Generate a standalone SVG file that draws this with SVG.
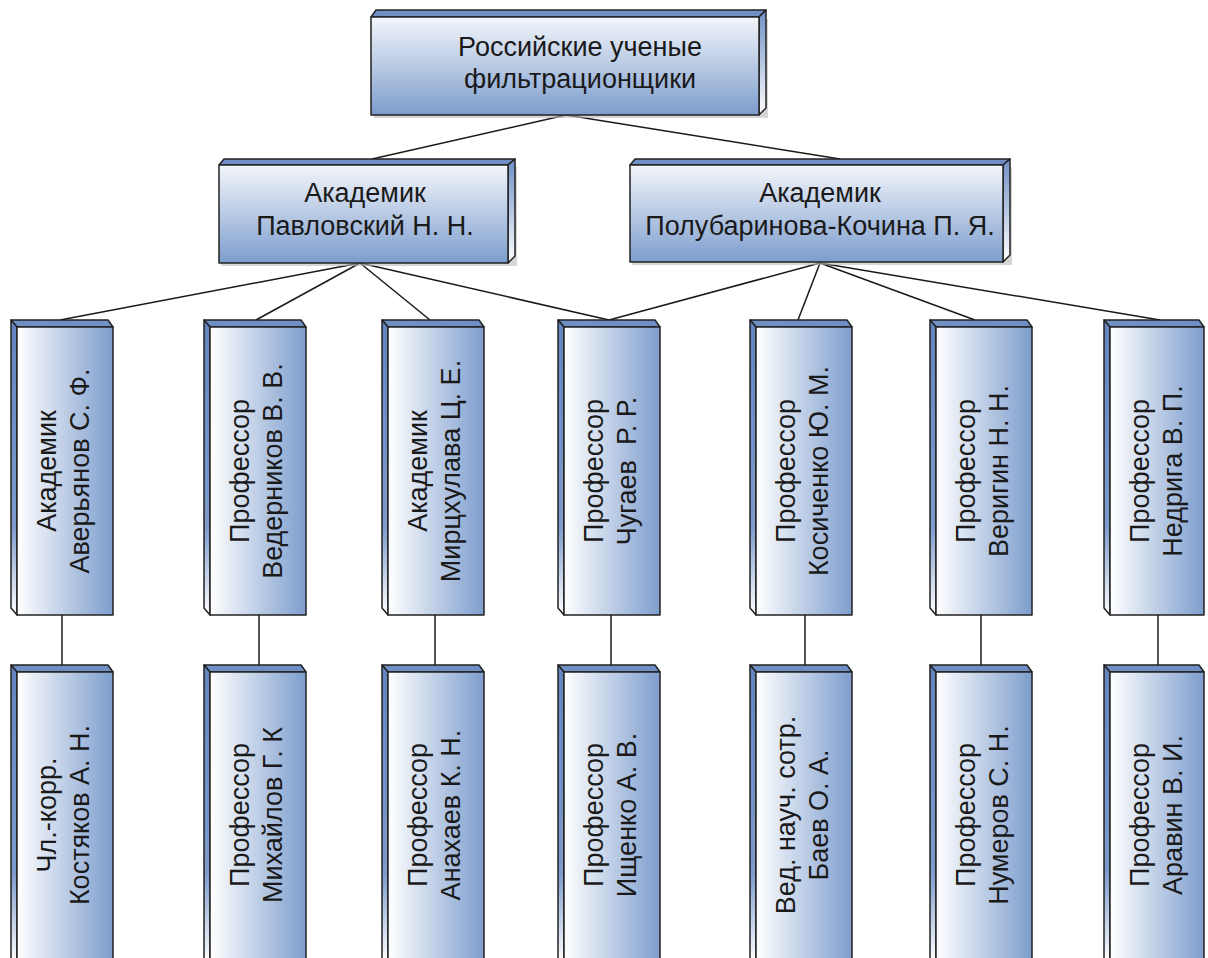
<svg xmlns="http://www.w3.org/2000/svg" width="1208" height="958" viewBox="0 0 1208 958">
<defs>
<linearGradient id="gH" x1="0" y1="0" x2="0" y2="1"><stop offset="0" stop-color="#f3f6fb"/><stop offset="1" stop-color="#7d9dcd"/></linearGradient>
<linearGradient id="gV" x1="0" y1="0" x2="1" y2="0"><stop offset="0" stop-color="#ffffff"/><stop offset="1" stop-color="#7d9dcd"/></linearGradient>
<linearGradient id="gS" x1="0" y1="0" x2="0" y2="1"><stop offset="0" stop-color="#6f8fc5"/><stop offset="1" stop-color="#ffffff"/></linearGradient>
<linearGradient id="gL" x1="0" y1="0" x2="0" y2="1"><stop offset="0" stop-color="#6384bf"/><stop offset="0.7" stop-color="#7d9bcc"/><stop offset="1" stop-color="#ffffff"/></linearGradient>
</defs>
<style>
.face{stroke:#222;stroke-width:1.5;stroke-linejoin:round}
.top{fill:#6f8fc5}
.fh{fill:url(#gH)}
.fv{fill:url(#gV)}
.sr{fill:url(#gS)}
.sl{fill:url(#gL)}
.sh{fill:#bbb;opacity:0.6}
text{font-family:"Liberation Sans",Arial,sans-serif;font-size:27px;fill:#1a1a1a;text-anchor:middle}
.con line{stroke:#1a1a1a;stroke-width:1.5}
</style>
<g class="con">
<line x1="566" y1="115" x2="372" y2="159"/>
<line x1="566" y1="115" x2="840" y2="159"/>
<line x1="360" y1="263" x2="60" y2="320"/>
<line x1="360" y1="263" x2="256" y2="320"/>
<line x1="360" y1="263" x2="430" y2="320"/>
<line x1="360" y1="263" x2="609" y2="320"/>
<line x1="820" y1="263" x2="609" y2="320"/>
<line x1="820" y1="263" x2="798" y2="320"/>
<line x1="820" y1="263" x2="975" y2="320"/>
<line x1="820" y1="263" x2="1160" y2="320"/>
<line x1="62" y1="615" x2="62" y2="665"/>
<line x1="259" y1="615" x2="259" y2="665"/>
<line x1="435" y1="615" x2="435" y2="665"/>
<line x1="611" y1="615" x2="611" y2="665"/>
<line x1="805" y1="615" x2="805" y2="665"/>
<line x1="981" y1="615" x2="981" y2="665"/>
<line x1="1158" y1="615" x2="1158" y2="665"/>
</g>
<g id="root">
<rect class="sh" x="374" y="19" width="394" height="99"/>
<polygon class="face top" points="371,17 376,10 766,10 759,17"/>
<polygon class="face sr" points="759,17 766,10 766,108 759,115"/>
<rect class="face fh" x="371" y="17" width="388" height="98"/>
<text x="580" y="56">Российские ученые</text>
<text x="580" y="88">фильтрационщики</text>
</g>
<g id="pavlovsky">
<rect class="sh" x="221" y="167" width="296" height="99"/>
<polygon class="face top" points="219,165 224,159 515,159 508,165"/>
<polygon class="face sr" points="508,165 515,159 515,256 508,263"/>
<rect class="face fh" x="219" y="165" width="289" height="98"/>
<text x="365" y="202">Академик</text>
<text x="365" y="235">Павловский Н. Н.</text>
</g>
<g id="polubarinova">
<rect class="sh" x="632" y="167" width="380" height="98"/>
<polygon class="face top" points="630,165 635,159 1010,159 1003,165"/>
<polygon class="face sr" points="1003,165 1010,159 1010,255 1003,262"/>
<rect class="face fh" x="630" y="165" width="373" height="97"/>
<text x="820" y="202">Академик</text>
<text x="820" y="235">Полубаринова-Кочина П. Я.</text>
</g>
<g id="averyanov">
<polygon class="face top" points="11,320 17,327 113,327 108,320"/>
<polygon class="face sl" points="11,320 17,327 17,615 11,608"/>
<rect class="face fv" x="17" y="327" width="96" height="288"/>
<text transform="translate(63,471) rotate(-90)"><tspan x="0" y="-7">Академик</tspan><tspan x="0" y="26">Аверьянов С. Ф.</tspan></text>
</g>
<g id="vedernikov">
<polygon class="face top" points="204,320 210,327 306,327 301,320"/>
<polygon class="face sl" points="204,320 210,327 210,615 204,608"/>
<rect class="face fv" x="210" y="327" width="96" height="288"/>
<text transform="translate(256,471) rotate(-90)"><tspan x="0" y="-7">Профессор</tspan><tspan x="0" y="26">Ведерников В. В.</tspan></text>
</g>
<g id="mirtskhulava">
<polygon class="face top" points="382,320 388,327 484,327 479,320"/>
<polygon class="face sl" points="382,320 388,327 388,615 382,608"/>
<rect class="face fv" x="388" y="327" width="96" height="288"/>
<text transform="translate(434,471) rotate(-90)"><tspan x="0" y="-7">Академик</tspan><tspan x="0" y="26">Мирцхулава Ц. Е.</tspan></text>
</g>
<g id="chugaev">
<polygon class="face top" points="558,320 564,327 660,327 655,320"/>
<polygon class="face sl" points="558,320 564,327 564,615 558,608"/>
<rect class="face fv" x="564" y="327" width="96" height="288"/>
<text transform="translate(610,471) rotate(-90)"><tspan x="0" y="-7">Профессор</tspan><tspan x="0" y="26">Чугаев&#160; Р. Р.</tspan></text>
</g>
<g id="kosichenko">
<polygon class="face top" points="750,320 756,327 852,327 847,320"/>
<polygon class="face sl" points="750,320 756,327 756,615 750,608"/>
<rect class="face fv" x="756" y="327" width="96" height="288"/>
<text transform="translate(802,471) rotate(-90)"><tspan x="0" y="-7">Профессор</tspan><tspan x="0" y="26">Косиченко Ю. М.</tspan></text>
</g>
<g id="verigin">
<polygon class="face top" points="930,320 936,327 1032,327 1027,320"/>
<polygon class="face sl" points="930,320 936,327 936,615 930,608"/>
<rect class="face fv" x="936" y="327" width="96" height="288"/>
<text transform="translate(982,471) rotate(-90)"><tspan x="0" y="-7">Профессор</tspan><tspan x="0" y="26">Веригин Н. Н.</tspan></text>
</g>
<g id="nedriga">
<polygon class="face top" points="1104,320 1110,327 1204,327 1199,320"/>
<polygon class="face sl" points="1104,320 1110,327 1110,615 1104,608"/>
<rect class="face fv" x="1110" y="327" width="94" height="288"/>
<text transform="translate(1156,471) rotate(-90)"><tspan x="0" y="-7">Профессор</tspan><tspan x="0" y="26">Недрига В. П.</tspan></text>
</g>
<g id="kostyakov">
<polygon class="face top" points="11,665 17,672 113,672 108,665"/>
<polygon class="face sl" points="11,665 17,672 17,962 11,962"/>
<rect class="face fv" x="17" y="672" width="96" height="290"/>
<text transform="translate(63,815) rotate(-90)"><tspan x="0" y="-7">Чл.-корр.</tspan><tspan x="0" y="26">Костяков А. Н.</tspan></text>
</g>
<g id="mikhailov">
<polygon class="face top" points="204,665 210,672 306,672 301,665"/>
<polygon class="face sl" points="204,665 210,672 210,962 204,962"/>
<rect class="face fv" x="210" y="672" width="96" height="290"/>
<text transform="translate(256,815) rotate(-90)"><tspan x="0" y="-7">Профессор</tspan><tspan x="0" y="26">Михайлов Г. К</tspan></text>
</g>
<g id="anakhaev">
<polygon class="face top" points="382,665 388,672 484,672 479,665"/>
<polygon class="face sl" points="382,665 388,672 388,962 382,962"/>
<rect class="face fv" x="388" y="672" width="96" height="290"/>
<text transform="translate(434,815) rotate(-90)"><tspan x="0" y="-7">Профессор</tspan><tspan x="0" y="26">Анахаев К. Н.</tspan></text>
</g>
<g id="ishchenko">
<polygon class="face top" points="558,665 564,672 660,672 655,665"/>
<polygon class="face sl" points="558,665 564,672 564,962 558,962"/>
<rect class="face fv" x="564" y="672" width="96" height="290"/>
<text transform="translate(610,815) rotate(-90)"><tspan x="0" y="-7">Профессор</tspan><tspan x="0" y="26">Ищенко А. В.</tspan></text>
</g>
<g id="baev">
<polygon class="face top" points="750,665 756,672 852,672 847,665"/>
<polygon class="face sl" points="750,665 756,672 756,962 750,962"/>
<rect class="face fv" x="756" y="672" width="96" height="290"/>
<text transform="translate(802,815) rotate(-90)"><tspan x="0" y="-7">Вед. науч. сотр.</tspan><tspan x="0" y="26">Баев О. А.</tspan></text>
</g>
<g id="numerov">
<polygon class="face top" points="930,665 936,672 1032,672 1027,665"/>
<polygon class="face sl" points="930,665 936,672 936,962 930,962"/>
<rect class="face fv" x="936" y="672" width="96" height="290"/>
<text transform="translate(982,815) rotate(-90)"><tspan x="0" y="-7">Профессор</tspan><tspan x="0" y="26">Нумеров С. Н.</tspan></text>
</g>
<g id="aravin">
<polygon class="face top" points="1104,665 1110,672 1204,672 1199,665"/>
<polygon class="face sl" points="1104,665 1110,672 1110,962 1104,962"/>
<rect class="face fv" x="1110" y="672" width="94" height="290"/>
<text transform="translate(1156,815) rotate(-90)"><tspan x="0" y="-7">Профессор</tspan><tspan x="0" y="26">Аравин В. И.</tspan></text>
</g>
</svg>
